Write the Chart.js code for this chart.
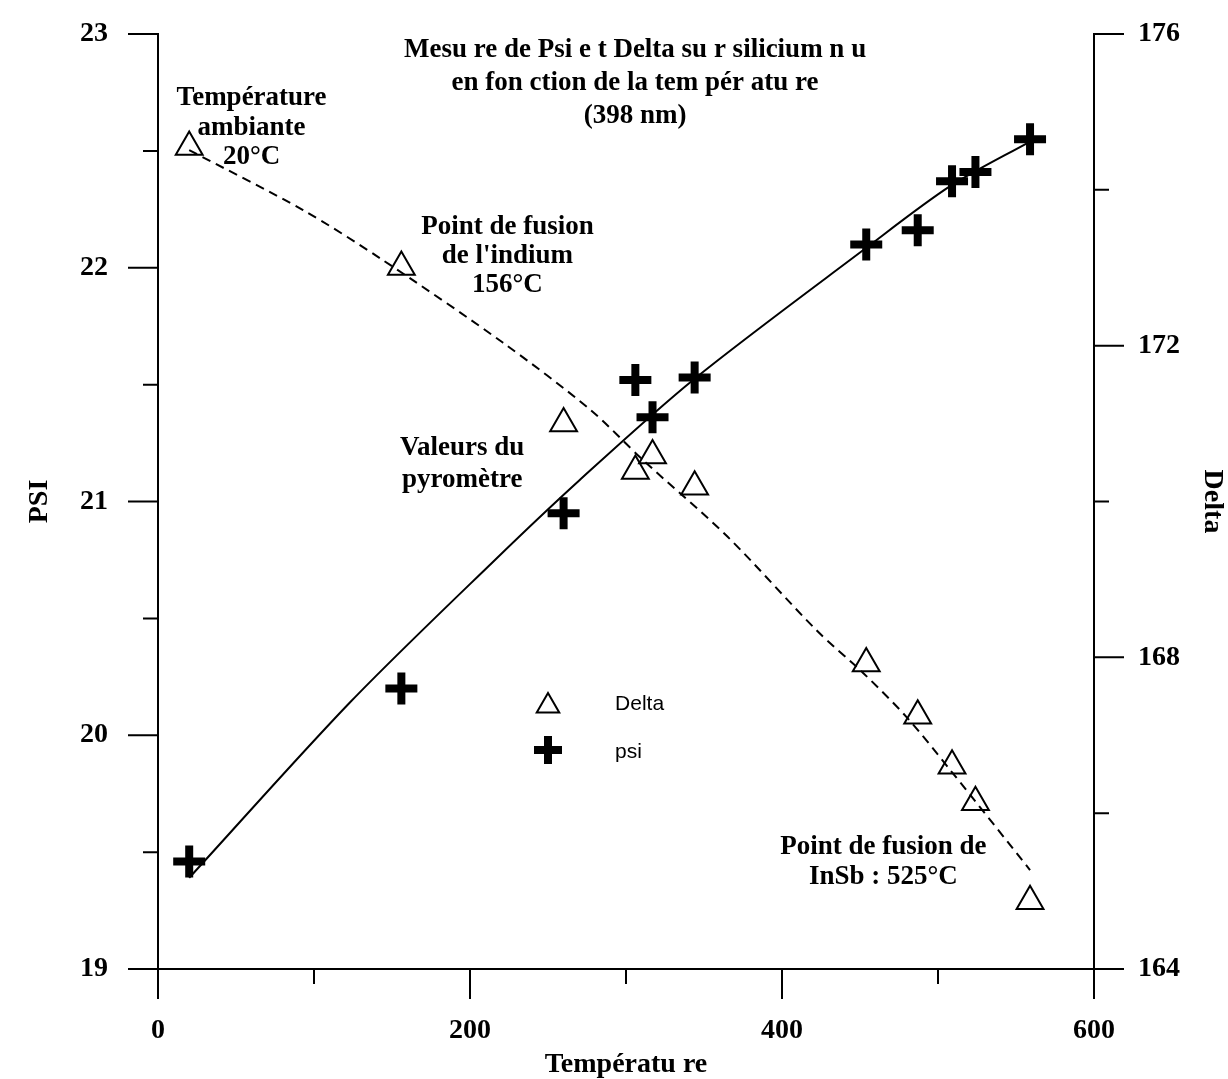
<!DOCTYPE html>
<html><head><meta charset="utf-8">
<script src="https://cdn.jsdelivr.net/npm/chart.js@4.4.1/dist/chart.umd.min.js"></script>
<style>html,body{margin:0;padding:0;background:#fff;} canvas{display:block;}</style>
</head><body>
<canvas id="c" width="1228" height="1079"></canvas>
<script>
// ---- data ----
const temperatures = [20, 156, 260, 306, 317, 344, 454, 487, 509, 524, 559];
const psiValues    = [19.46, 20.20, 20.95, 21.52, 21.36, 21.53, 22.10, 22.16, 22.37, 22.41, 22.55];
const deltaValues  = [174.55, 173.01, 171.00, 170.39, 170.59, 170.19, 167.92, 167.25, 166.61, 166.14, 164.87];
const psiFitT      = [20, 123, 216, 270, 343, 453, 508, 559];
const psiFitValues = [19.39, 20.14, 20.75, 21.09, 21.52, 22.08, 22.35, 22.54];
const deltaFitT      = [20, 93, 144, 221, 277, 311, 365, 422, 452, 480, 508, 559];
const deltaFitValues = [174.51, 173.74, 173.10, 172.04, 171.18, 170.53, 169.55, 168.35, 167.80, 167.23, 166.55, 165.27];
const xTickLabels     = [0, 200, 400, 600];
const psiTickLabels   = [19, 20, 21, 22, 23];
const deltaTickLabels = [164, 168, 172, 176];
const titleLines = ['Mesu re de Psi e t Delta su r silicium n u', 'en fon ction de la tem pér atu re', '(398 nm)'];
const xTitle = 'Températu re';
const psiTitle = 'PSI';
const deltaTitle = 'Delta';
const legendLabels = ['Delta', 'psi'];
const notes = [
  {lines: ['Température', 'ambiante', '20°C'], x: 60, y: 22.726, step: 29.5},
  {lines: ['Point de fusion', "de l'indium", '156°C'], x: 224, y: 22.174, step: 29},
  {lines: ['Valeurs du', 'pyromètre'], x: 195, y: 21.229, step: 32},
  {lines: ['Point de fusion de', 'InSb : 525°C'], x: 465, y: 19.522, step: 30}
];

const SERIF = "'Liberation Serif', 'Times New Roman', serif";
const SANS = "'Liberation Sans', Arial, sans-serif";
const tickFont = {family: SERIF, size: 28, weight: 'bold', lineHeight: 1};

function pts(xs, ys) { return xs.map((t, i) => ({x: t, y: ys[i]})); }

function triangle(ctx, x, y, r) {
  ctx.beginPath();
  for (let k = 0; k < 3; k++) {
    const a = k * 2 * Math.PI / 3;
    const px = x + Math.sin(a) * r, py = y - Math.cos(a) * r;
    if (k === 0) ctx.moveTo(px, py); else ctx.lineTo(px, py);
  }
  ctx.closePath();
  ctx.stroke();
}

function fixSize(prop, size) {
  return function (s) {
    s[prop] = size;
    s.paddingTop = 0; s.paddingBottom = 0; s.paddingLeft = 0; s.paddingRight = 0;
  };
}

const decorations = {
  id: 'decorations',
  afterDraw(chart) {
    const ctx = chart.ctx;
    const xs = chart.scales.x, yl = chart.scales.yPsi, yr = chart.scales.yDelta;
    const area = chart.chartArea;
    ctx.save();
    ctx.strokeStyle = '#000';
    ctx.lineWidth = 2;
    ctx.beginPath();
    xs.ticks.forEach(t => {
      const p = xs.getPixelForValue(t.value);
      const len = xTickLabels.includes(t.value) ? 30 : 15;
      ctx.moveTo(p, area.bottom); ctx.lineTo(p, area.bottom + len);
    });
    yl.ticks.forEach(t => {
      const p = yl.getPixelForValue(t.value);
      const len = psiTickLabels.includes(t.value) ? 30 : 15;
      ctx.moveTo(area.left - len, p); ctx.lineTo(area.left, p);
    });
    yr.ticks.forEach(t => {
      const p = yr.getPixelForValue(t.value);
      const len = deltaTickLabels.includes(t.value) ? 30 : 15;
      ctx.moveTo(area.right, p); ctx.lineTo(area.right + len, p);
    });
    ctx.stroke();

    // title
    ctx.fillStyle = '#000';
    ctx.textAlign = 'center';
    ctx.textBaseline = 'middle';
    ctx.font = 'bold 27px ' + SERIF;
    const tx = xs.getPixelForValue(305.8);
    const ty = yl.getPixelForValue(22.931);
    titleLines.forEach((l, i) => ctx.fillText(l, tx, ty + i * 33));

    // annotations
    notes.forEach(n => {
      const nx = xs.getPixelForValue(n.x), ny = yl.getPixelForValue(n.y);
      n.lines.forEach((l, i) => ctx.fillText(l, nx, ny + i * n.step));
    });

    // legend
    const lx = xs.getPixelForValue(250);
    const ly1 = yl.getPixelForValue(20.138);
    const ly2 = yl.getPixelForValue(19.937);
    ctx.lineWidth = 2;
    triangle(ctx, lx, ly1 + 3, 13);
    ctx.lineWidth = 8;
    ctx.beginPath();
    ctx.moveTo(lx - 14, ly2); ctx.lineTo(lx + 14, ly2);
    ctx.moveTo(lx, ly2 - 14); ctx.lineTo(lx, ly2 + 14);
    ctx.stroke();
    ctx.font = '21px ' + SANS;
    ctx.textAlign = 'left';
    const ltx = xs.getPixelForValue(293);
    ctx.fillText(legendLabels[0], ltx, ly1 + 1);
    ctx.fillText(legendLabels[1], ltx, ly2 + 2);
    ctx.restore();
  }
};

new Chart(document.getElementById('c'), {
  type: 'scatter',
  data: {
    datasets: [
      {label: 'psi fit', type: 'line', data: pts(psiFitT, psiFitValues), yAxisID: 'yPsi',
       borderColor: '#000', borderWidth: 2, pointRadius: 0, tension: 0.3, fill: false},
      {label: 'delta fit', type: 'line', data: pts(deltaFitT, deltaFitValues), yAxisID: 'yDelta',
       borderColor: '#000', borderWidth: 2, borderDash: [9, 6], pointRadius: 0, tension: 0.3, fill: false},
      {label: legendLabels[0], data: pts(temperatures, deltaValues), yAxisID: 'yDelta',
       pointStyle: 'triangle', pointRadius: 15.5, pointBorderColor: '#000', pointBackgroundColor: 'rgba(0,0,0,0)', pointBorderWidth: 2},
      {label: legendLabels[1], data: pts(temperatures, psiValues), yAxisID: 'yPsi',
       pointStyle: 'cross', pointRadius: 16, pointBorderColor: '#000', pointBackgroundColor: '#000', pointBorderWidth: 8}
    ]
  },
  options: {
    responsive: false,
    animation: false,
    events: [],
    layout: {padding: {top: 34, left: 0, right: 0, bottom: 0}},
    plugins: {legend: {display: false}, tooltip: {enabled: false}},
    scales: {
      x: {
        type: 'linear', position: 'bottom', min: 0, max: 600,
        ticks: {stepSize: 100, autoSkip: false, maxRotation: 0, color: '#000', font: tickFont, padding: 48,
                callback: v => xTickLabels.includes(v) ? String(v) : ''},
        grid: {display: false, drawTicks: false, tickLength: 0},
        border: {display: true, color: '#000', width: 2},
        title: {display: true, text: xTitle, color: '#000', font: {family: SERIF, size: 28, weight: 'bold', lineHeight: 1}, padding: {top: 0, bottom: 0}},
        afterFit: fixSize('height', 110)
      },
      yPsi: {
        type: 'linear', position: 'left', min: 19, max: 23,
        ticks: {stepSize: 0.5, autoSkip: false, color: '#000', font: tickFont, padding: 50,
                callback: v => psiTickLabels.includes(v) ? String(v) : ''},
        grid: {display: false, drawTicks: false, tickLength: 0},
        border: {display: true, color: '#000', width: 2},
        title: {display: true, text: psiTitle, color: '#000', font: {family: SERIF, size: 28, weight: 'bold', lineHeight: 1}, padding: {top: 26, bottom: 0}},
        afterFit: fixSize('width', 158)
      },
      yDelta: {
        type: 'linear', position: 'right', min: 164, max: 176,
        ticks: {stepSize: 2, autoSkip: false, color: '#000', font: tickFont, padding: 44,
                callback: v => deltaTickLabels.includes(v) ? String(v) : ''},
        grid: {display: false, drawTicks: false, tickLength: 0},
        border: {display: true, color: '#000', width: 2},
        title: {display: true, text: deltaTitle, color: '#000', font: {family: SERIF, size: 28, weight: 'bold', lineHeight: 1}, padding: {top: 2, bottom: 0}},
        afterFit: fixSize('width', 134)
      }
    }
  },
  plugins: [decorations]
});
</script>
</body></html>
